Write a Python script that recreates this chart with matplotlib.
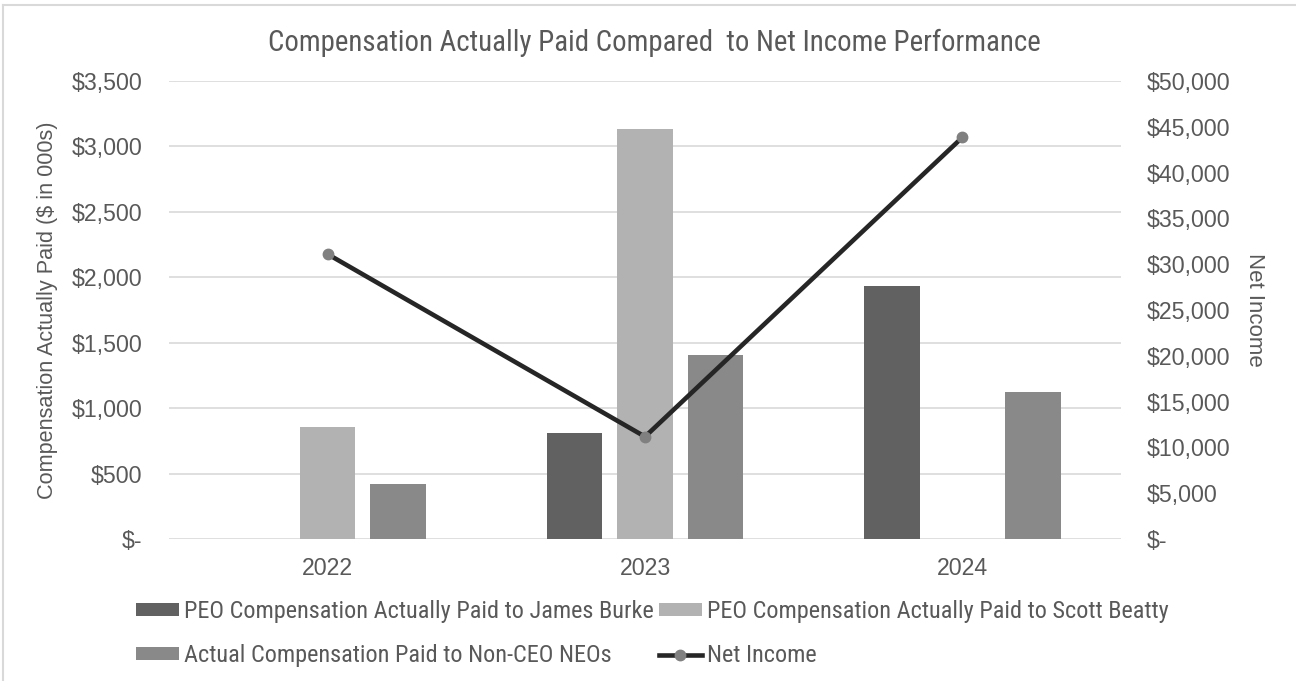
import numpy as np
import matplotlib
matplotlib.use("Agg")
import matplotlib.pyplot as plt
from matplotlib import font_manager
from matplotlib.lines import Line2D
from matplotlib.ticker import FuncFormatter

years = ["2022", "2023", "2024"]
burke = [0, 812, 1933]
beatty = [858, 3134, 0]
neos = [420, 1406, 1123]
net_income = [31100, 11170, 43850]

installed = {f.name for f in font_manager.fontManager.ttflist}
def pick(*names):
    return [n for n in names if n in installed] + ["DejaVu Sans"]

gray_txt = "#595959"
narrow = pick("Liberation Sans Narrow", "Roboto Condensed", "Liberation Sans")
plt.rcParams["font.family"] = pick("Liberation Sans")

fig = plt.figure(figsize=(12.96, 6.81), dpi=100)
ax = fig.add_axes([0.1304, 0.2085, 0.865 - 0.1304, 0.881 - 0.2085])
ax2 = ax.twinx()

x = np.arange(len(years))
w = 0.175
off = 0.222
b1 = ax.bar(x - off, burke, w, color="#616161", label="PEO Compensation Actually Paid to James Burke", zorder=2)
b2 = ax.bar(x, beatty, w, color="#b2b2b2", label="PEO Compensation Actually Paid to Scott Beatty", zorder=2)
b3 = ax.bar(x + off, neos, w, color="#898989", label="Actual Compensation Paid to Non-CEO NEOs", zorder=2)
ln, = ax2.plot(x, net_income, color="#262626", lw=3.3, marker="o", markersize=7.5,
               markerfacecolor="#808080", markeredgecolor="#808080", label="Net Income", zorder=3)

ax.set_xlim(-0.5, 2.5)
ax.set_ylim(0, 3500)
ax.set_yticks(np.arange(0, 3501, 500))
ax2.set_ylim(0, 50000)
ax2.set_yticks(np.arange(0, 50001, 5000))

def money(v, pos):
    return "$-" if v == 0 else "${:,.0f}".format(v)

ax.yaxis.set_major_formatter(FuncFormatter(money))
ax2.yaxis.set_major_formatter(FuncFormatter(money))
ax.set_xticks(x)
ax.set_xticklabels(years)

ax.grid(axis="y", color="#d9d9d9", lw=1.2, zorder=0)
ax.set_axisbelow(True)
for a in (ax, ax2):
    for s in a.spines.values():
        s.set_visible(False)
    a.tick_params(length=0, labelsize=16.7, colors=gray_txt)
ax.tick_params(axis="y", pad=19)
ax.tick_params(axis="x", pad=13)
ax2.tick_params(axis="y", pad=18.5)

ax.set_ylabel("Compensation Actually Paid ($ in 000s)", fontsize=15.6, color=gray_txt, labelpad=10)
ax2.set_ylabel("Net Income", fontsize=16, color=gray_txt, rotation=-90, labelpad=25)

fig.text(0.505, 0.937, "Compensation Actually Paid Compared  to Net Income Performance",
         ha="center", va="center", fontsize=20.8, color=gray_txt, family=narrow)

leg = fig.legend([b1, b3, b2, ln],
                 [b1.get_label(), b3.get_label(), b2.get_label(), ln.get_label()],
                 ncol=2, loc="upper left", bbox_to_anchor=(0.0977, 0.1325),
                 frameon=False, prop={"family": narrow, "size": 17.5},
                 handlelength=1.77, handleheight=0.45, handletextpad=0.2,
                 columnspacing=0.2, labelspacing=0.85, borderaxespad=0)
for t in leg.get_texts():
    t.set_color(gray_txt)

# partial outer frame, top and left
fig.add_artist(Line2D([0.0025, 1.0], [0.9925, 0.9925], color="#d9d9d9", lw=1.5, transform=fig.transFigure))
fig.add_artist(Line2D([0.0025, 0.0025], [0.0, 0.9925], color="#d9d9d9", lw=1.5, transform=fig.transFigure))

fig.savefig("out.png", dpi=100, facecolor="white")
